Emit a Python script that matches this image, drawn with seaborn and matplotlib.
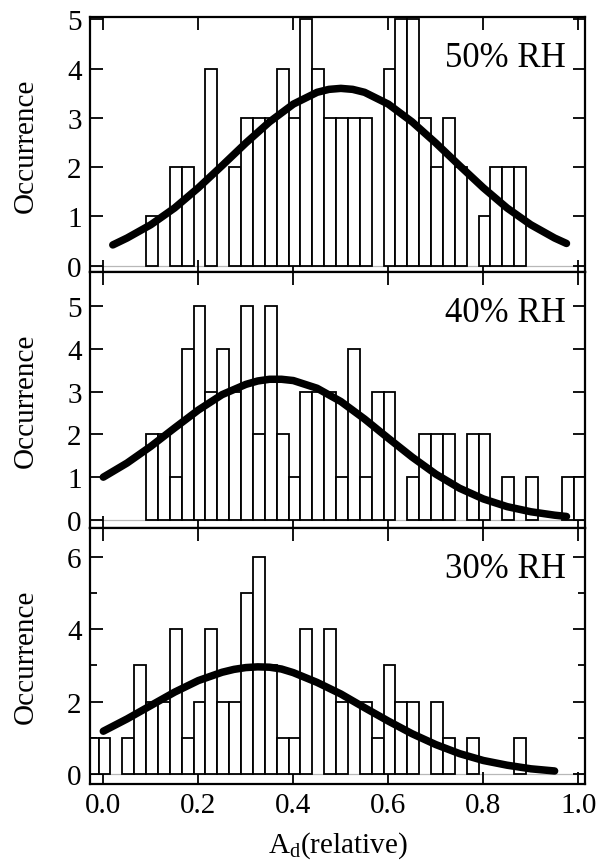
import numpy as np
import pandas as pd
import matplotlib
matplotlib.use("Agg")
import matplotlib.pyplot as plt
import seaborn as sns
from matplotlib.ticker import MultipleLocator, NullLocator, FormatStrFormatter

# ---------------- data ----------------
bin_start = -0.035
bin_width = 0.025

counts_50 = [0, 0, 0, 0, 0, 1, 0, 2, 2, 0, 4, 0, 2, 3, 3, 3, 4, 3, 5, 4, 3,
             3, 3, 3, 0, 4, 5, 5, 3, 2, 3, 2, 0, 1, 2, 2, 2, 0, 0, 0, 0, 0]
counts_40 = [0, 0, 0, 0, 0, 2, 2, 1, 4, 5, 3, 4, 3, 5, 2, 5, 2, 1, 3, 3, 3,
             1, 4, 1, 3, 3, 0, 1, 2, 2, 2, 0, 2, 2, 0, 1, 0, 1, 0, 0, 1, 1]
counts_30 = [1, 1, 0, 1, 3, 2, 2, 4, 1, 2, 4, 2, 2, 5, 6, 3, 1, 1, 4, 0, 4,
             2, 0, 2, 1, 3, 2, 2, 0, 2, 1, 0, 1, 0, 0, 0, 1, 0, 0, 0, 0, 0]

fit_x_50 = [0.02, 0.05, 0.10, 0.15, 0.20, 0.25, 0.30, 0.35, 0.40, 0.45, 0.475,
            0.50, 0.525, 0.55, 0.60, 0.65, 0.70, 0.75, 0.80, 0.85, 0.90,
            0.95, 0.975]
fit_y_50 = [0.42, 0.56, 0.83, 1.17, 1.58, 2.03, 2.49, 2.92, 3.28, 3.52, 3.58,
            3.60, 3.58, 3.52, 3.28, 2.92, 2.49, 2.03, 1.58, 1.17, 0.83,
            0.56, 0.45]

fit_x_40 = [0.00, 0.05, 0.10, 0.15, 0.20, 0.25, 0.30, 0.325, 0.35, 0.375,
            0.40, 0.45, 0.50, 0.55, 0.60, 0.65, 0.70, 0.75, 0.80, 0.85, 0.90,
            0.95, 0.975]
fit_y_40 = [1.00, 1.33, 1.72, 2.15, 2.57, 2.93, 3.17, 3.25, 3.29, 3.29,
            3.26, 3.08, 2.77, 2.36, 1.91, 1.47, 1.07, 0.74, 0.49, 0.31, 0.19,
            0.11, 0.08]

fit_x_30 = [0.00, 0.05, 0.10, 0.15, 0.20, 0.25, 0.275, 0.30, 0.325, 0.35,
            0.375, 0.40, 0.45, 0.50, 0.55, 0.60, 0.65, 0.70, 0.75, 0.80, 0.85,
            0.90, 0.95]
fit_y_30 = [1.18, 1.52, 1.89, 2.26, 2.58, 2.81, 2.89, 2.94, 2.96, 2.95,
            2.90, 2.80, 2.53, 2.21, 1.83, 1.46, 1.11, 0.81, 0.56, 0.37, 0.24,
            0.14, 0.08]

panel_labels = ["50% RH", "40% RH", "30% RH"]
x_ticks = [0.0, 0.2, 0.4, 0.6, 0.8, 1.0]
y_label = "Occurrence"
x_label = r"A$_{\mathrm{d}}$(relative)"

# ---------------- style ----------------
sns.set_theme(style="ticks")
plt.rcParams['font.family'] = ['Liberation Serif', 'DejaVu Serif']
plt.rcParams['mathtext.fontset'] = 'custom'
plt.rcParams['mathtext.rm'] = 'Liberation Serif'
plt.rcParams['mathtext.it'] = 'Liberation Serif:italic'
plt.rcParams['axes.edgecolor'] = 'black'
plt.rcParams['xtick.color'] = 'black'
plt.rcParams['ytick.color'] = 'black'
plt.rcParams['text.color'] = 'black'
plt.rcParams['axes.labelcolor'] = 'black'

W, H = 599, 862
fig = plt.figure(figsize=(W / 100, H / 100), dpi=100)
left_px, right_px = 90, 585
tops = [18, 273, 529]
bots = [273, 529, 785]
axes = [fig.add_axes([left_px / W, 1 - b / H, (right_px - left_px) / W, (b - t) / H])
        for t, b in zip(tops, bots)]

panels = [
    (counts_50, fit_x_50, fit_y_50, (-0.13, 5.05), 1, None),
    (counts_40, fit_x_40, fit_y_40, (-0.19, 5.8), 1, None),
    (counts_30, fit_x_30, fit_y_30, (-0.28, 6.8), 2, 1),
]

for i, (ax, (counts, fx, fy, ylim, ymaj, ymin)) in enumerate(zip(axes, panels)):
    n = len(counts)
    centers = [bin_start + bin_width * (k + 0.5) for k in range(n)]
    df = pd.DataFrame({"x": centers, "n": counts})
    sns.histplot(data=df, x="x", weights="n", binwidth=bin_width,
                 binrange=(bin_start, bin_start + bin_width * n), ax=ax,
                 color="white", edgecolor="black", linewidth=1.3, alpha=1)
    for p in ax.patches:
        if p.get_height() == 0:
            p.set_visible(False)
    ax.axhline(0, color="#b8b8b8", lw=0.9, zorder=0.5)
    sns.lineplot(x=fx, y=fy, ax=ax, color="black", lw=5.4, zorder=3,
                 solid_joinstyle='round', solid_capstyle='round')

    ax.set_xlim(-0.028, 1.014)
    ax.set_ylim(*ylim)
    ax.set_xticks(x_ticks)
    ax.xaxis.set_minor_locator(NullLocator())
    ax.xaxis.set_major_formatter(FormatStrFormatter('%.1f'))
    ax.yaxis.set_major_locator(MultipleLocator(ymaj))
    if ymin:
        ax.yaxis.set_minor_locator(MultipleLocator(ymin))
    else:
        ax.yaxis.set_minor_locator(NullLocator())
    ax.tick_params(which='both', direction='in', top=True, right=True,
                   width=1.3, labelsize=21, pad=6)
    ax.tick_params(which='major', length=9)
    ax.tick_params(which='minor', length=5)
    for s in ax.spines.values():
        s.set_linewidth(1.6)
        s.set_color("black")
    ax.set_ylabel(y_label, fontsize=21)
    ax.yaxis.set_label_coords(-0.103, 0.5)
    ax.set_xlabel("")
    if i < 2:
        ax.tick_params(labelbottom=False)
    ax.text(0.962, 0.807, panel_labels[i], transform=ax.transAxes,
            ha='right', va='baseline', fontsize=25)

axes[2].set_xlabel(x_label, fontsize=21, labelpad=8)

fig.savefig("out.png", dpi=100)
